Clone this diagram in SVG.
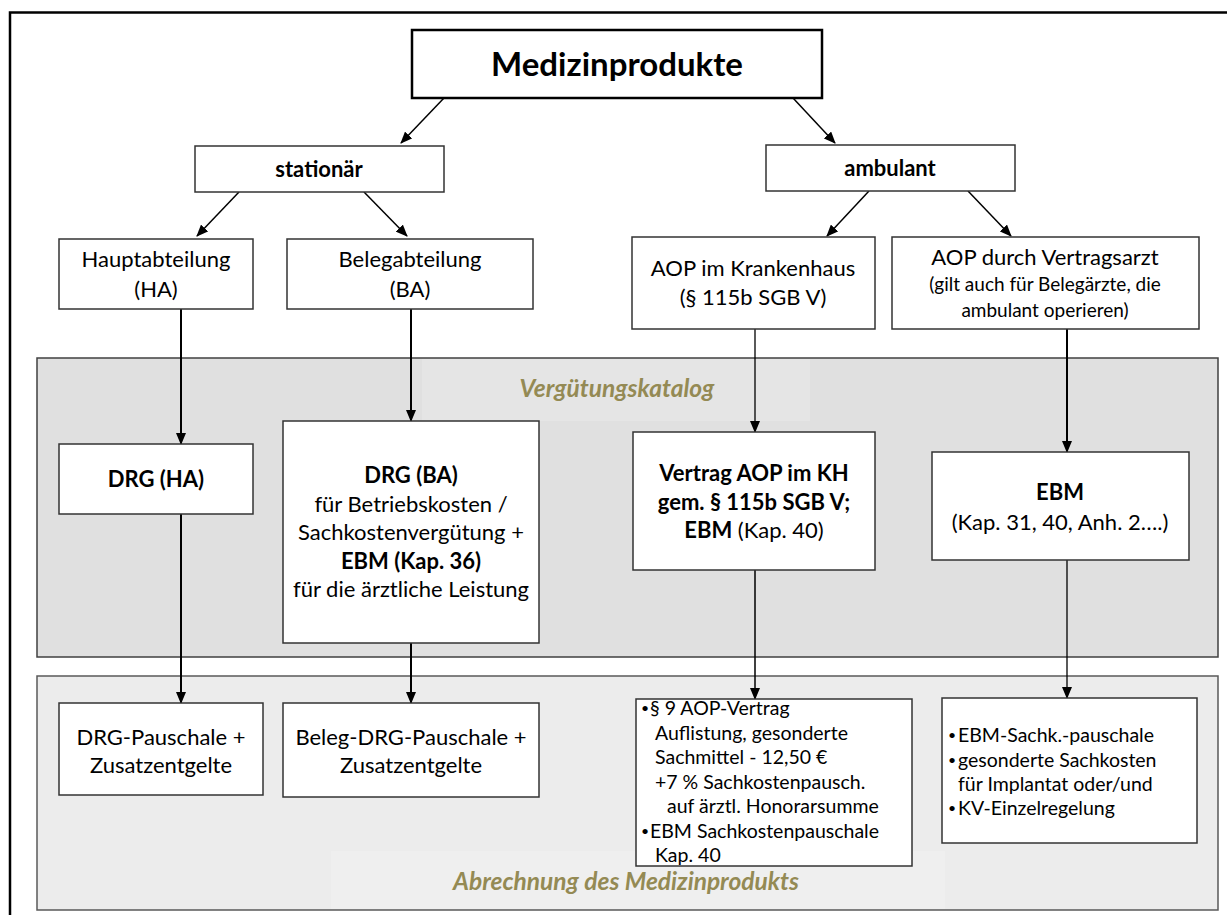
<svg xmlns="http://www.w3.org/2000/svg" width="1227" height="915" viewBox="0 0 1227 915">
<defs>
<marker id="ah" markerWidth="12" markerHeight="10" refX="11" refY="5" orient="auto" markerUnits="userSpaceOnUse">
<path d="M0,0 L12,5 L0,10 Z" fill="#000"/>
</marker>
<style>
text{font-family:Lato,"Open Sans","Liberation Sans",sans-serif;fill:#000;text-anchor:middle}
.b{font-weight:bold}
.box{fill:#fff;stroke:#333;stroke-width:1.5}
.c{stroke:#000;fill:none;marker-end:url(#ah)}
.t2{font-size:22px}
.t3{font-size:22px}
.sm{font-size:19px}
.li{font-size:19.5px;text-anchor:start}
.bu{font-size:14px;text-anchor:start}
.lab{font-size:24.5px;font-weight:bold;font-style:italic;fill:#948A54}
</style>
</defs>
<rect x="0" y="0" width="1227" height="915" fill="#fff"/>
<path d="M10,915 V12.5 H1227" fill="none" stroke="#000" stroke-width="2.5"/>

<g id="band-verguetung">
<rect x="37" y="358" width="1181" height="299" fill="#e0e0e0" stroke="#404040" stroke-width="1.5"/>
<rect x="422" y="359" width="388" height="62" fill="#e5e5e5"/>
<text class="lab" x="617" y="397">Vergütungskatalog</text>
</g>
<g id="band-abrechnung">
<rect x="37" y="676" width="1181" height="234" fill="#ececec" stroke="#595959" stroke-width="1.5"/>
<rect x="331" y="851" width="614" height="58" fill="#efefef"/>
<text class="lab" x="626" y="890">Abrechnung des Medizinprodukts</text>
</g>

<g id="connectors">
<path class="c" stroke-width="1.5" d="M444,98 L401,143"/>
<path class="c" stroke-width="1.5" d="M793,98 L835,143"/>
<path class="c" stroke-width="1.5" d="M239,192 L197,236"/>
<path class="c" stroke-width="1.5" d="M364,192 L407,236"/>
<path class="c" stroke-width="1.5" d="M869,191 L827,236"/>
<path class="c" stroke-width="1.5" d="M968,191 L1011,236"/>
<path class="c" stroke-width="2" d="M181,309 V444"/>
<path class="c" stroke-width="2" d="M411,309 V421"/>
<path class="c" stroke-width="1.3" d="M755,329 V432"/>
<path class="c" stroke-width="2" d="M1067,329 V452"/>
<path class="c" stroke-width="2" d="M181,514 V703"/>
<path class="c" stroke-width="2" d="M411,643 V703"/>
<path class="c" stroke-width="1.5" d="M755,570 V699"/>
<path class="c" stroke-width="1.3" d="M1067,560 V698"/>
</g>

<g id="n-medizinprodukte">
<rect x="412" y="30" width="410" height="68" fill="#fff" stroke="#000" stroke-width="2.5"/>
<text class="b" x="617" y="76" font-size="33">Medizinprodukte</text>
</g>
<g id="n-stationaer">
<rect class="box" x="195" y="146" width="249" height="46"/>
<text class="b t2" x="319" y="177">stationär</text>
</g>
<g id="n-ambulant">
<rect class="box" x="766" y="145" width="249" height="46"/>
<text class="b t2" x="890" y="176">ambulant</text>
</g>
<g id="n-ha">
<rect class="box" x="59" y="239" width="194" height="70"/>
<text class="t2" x="156" y="267">Hauptabteilung</text>
<text class="t2" x="156" y="297">(HA)</text>
</g>
<g id="n-ba">
<rect class="box" x="287" y="239" width="246" height="70"/>
<text class="t2" x="410" y="267">Belegabteilung</text>
<text class="t2" x="410" y="297">(BA)</text>
</g>
<g id="n-aop-kh">
<rect class="box" x="632" y="237" width="243" height="92"/>
<text class="t2" x="753" y="276">AOP im Krankenhaus</text>
<text class="t2" x="753" y="305">(§ 115b SGB V)</text>
</g>
<g id="n-aop-va">
<rect class="box" x="892" y="237" width="307" height="92"/>
<text class="t2" x="1045" y="265">AOP durch Vertragsarzt</text>
<text class="sm" x="1045" y="291">(gilt auch für Belegärzte, die</text>
<text class="sm" x="1045" y="317">ambulant operieren)</text>
</g>

<g id="n-drg-ha">
<rect class="box" x="59" y="444" width="194" height="70"/>
<text class="b t3" x="156" y="487">DRG (HA)</text>
</g>
<g id="n-drg-ba">
<rect class="box" x="283" y="421" width="256" height="222"/>
<text class="b t3" x="411" y="483">DRG (BA)</text>
<text class="t3" x="411" y="512">für Betriebskosten /</text>
<text class="t3" x="411" y="540">Sachkostenvergütung +</text>
<text class="b t3" x="411" y="569">EBM (Kap. 36)</text>
<text class="t3" x="411" y="597">für die ärztliche Leistung</text>
</g>
<g id="n-vertrag">
<rect class="box" x="633" y="432" width="242" height="138"/>
<text class="b t3" x="754" y="481">Vertrag AOP im KH</text>
<text class="b t3" x="754" y="510">gem. § 115b SGB V;</text>
<text class="t3" x="754" y="538"><tspan font-weight="bold">EBM</tspan> (Kap. 40)</text>
</g>
<g id="n-ebm">
<rect class="box" x="932" y="452" width="257" height="108"/>
<text class="b t3" x="1060" y="500">EBM</text>
<text class="t3" x="1060" y="530">(Kap. 31, 40, Anh. 2….)</text>
</g>

<g id="n-drg-pauschale">
<rect class="box" x="59" y="703" width="204" height="92"/>
<text class="t3" x="161" y="745">DRG-Pauschale +</text>
<text class="t3" x="161" y="773">Zusatzentgelte</text>
</g>
<g id="n-beleg-drg">
<rect class="box" x="283" y="703" width="256" height="94"/>
<text class="t3" x="411" y="745">Beleg-DRG-Pauschale +</text>
<text class="t3" x="411" y="773">Zusatzentgelte</text>
</g>
<g id="n-aop-abrechnung">
<rect class="box" x="636" y="699" width="276" height="167"/>
<text class="bu" x="641" y="713">•</text><text class="li" x="650" y="715">§ 9 AOP-Vertrag</text>
<text class="li" x="655" y="740">Auflistung, gesonderte</text>
<text class="li" x="655" y="764">Sachmittel - 12,50 €</text>
<text class="li" x="655" y="789">+7 % Sachkostenpausch.</text>
<text class="li" x="667" y="813">auf ärztl. Honorarsumme</text>
<text class="bu" x="641" y="836">•</text><text class="li" x="650" y="838">EBM Sachkostenpauschale</text>
<text class="li" x="655" y="862">Kap. 40</text>
</g>
<g id="n-ebm-abrechnung">
<rect class="box" x="942" y="698" width="255" height="145"/>
<text class="bu" x="948" y="740">•</text><text class="li" x="958" y="742">EBM-Sachk.-pauschale</text>
<text class="bu" x="948" y="765">•</text><text class="li" x="958" y="767">gesonderte Sachkosten</text>
<text class="li" x="958" y="791">für Implantat oder/und</text>
<text class="bu" x="948" y="813">•</text><text class="li" x="958" y="815">KV-Einzelregelung</text>
</g>
</svg>
